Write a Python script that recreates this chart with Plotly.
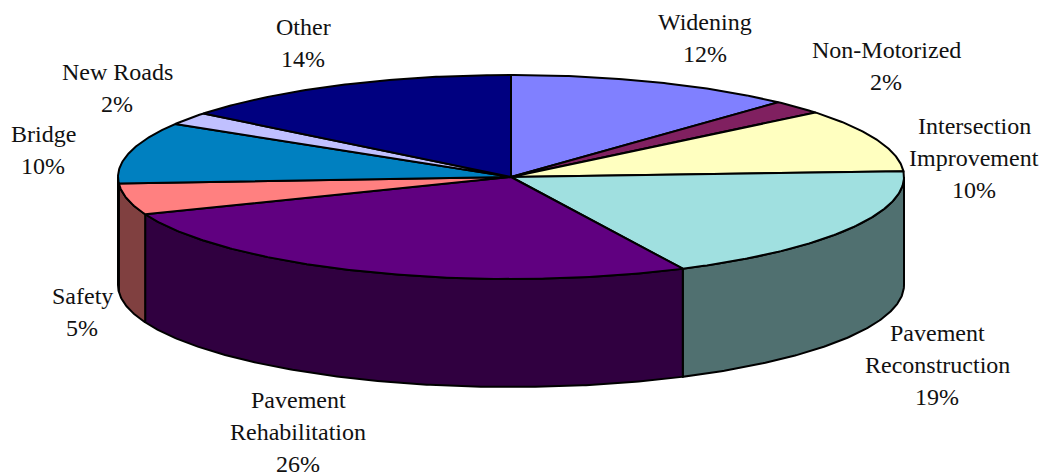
import numpy as np
import plotly.graph_objects as go

categories = ["Widening", "Non-Motorized", "Intersection Improvement", "Pavement Reconstruction",
              "Pavement Rehabilitation", "Safety", "Bridge", "New Roads", "Other"]
shares = [11.9, 2.2, 10.0, 18.7, 26.25, 4.95, 9.7, 2.0, 14.3]
top_colors = ["#8080FF", "#802060", "#FFFFC0", "#A0E0E0", "#600080", "#FF8080", "#0080C0", "#C0C0FF", "#000080"]
side_colors = ["#404080", "#401030", "#808060", "#507070", "#300040", "#804040", "#004060", "#606080", "#000040"]
label_lines = [["Widening", "12%"], ["Non-Motorized", "2%"], ["Intersection", "Improvement", "10%"],
               ["Pavement", "Reconstruction", "19%"], ["Pavement", "Rehabilitation", "26%"],
               ["Safety", "5%"], ["Bridge", "10%"], ["New Roads", "2%"], ["Other", "14%"]]
label_x = [705, 886, 974, 937, 298, 82, 43, 117, 303]
label_y = [22, 50, 126, 333, 400, 296, 134, 72, 27]
label_step = 32.2

CX, CY, RX, RY, DEPTH = 511, 177, 393, 102, 108


def rim(a, b, dy=0.0):
    t = np.radians(np.linspace(a, b, max(2, int(abs(b - a) * 2) + 2)))
    return CX + RX * np.sin(t), CY - RY * np.cos(t) + dy


fig = go.Figure()
edges = np.concatenate([[0], np.cumsum(shares)]) / sum(shares) * 360

# visible outer wall (front half of the disc)
for i, name in enumerate(categories):
    a, b = max(edges[i], 90), min(edges[i + 1], 270)
    if b <= a:
        continue
    xt, yt = rim(a, b)
    xb, yb = rim(b, a, DEPTH)
    fig.add_trace(go.Scatter(x=np.r_[xt, xb, xt[0]], y=np.r_[yt, yb, yt[0]], mode="lines", fill="toself",
                             fillcolor=side_colors[i], line=dict(color="black", width=2),
                             hoverinfo="skip", showlegend=False))

# top face wedges
for i, name in enumerate(categories):
    xt, yt = rim(edges[i], edges[i + 1])
    fig.add_trace(go.Scatter(x=np.r_[CX, xt, CX], y=np.r_[CY, yt, CY], mode="lines", fill="toself",
                             fillcolor=top_colors[i], line=dict(color="black", width=2),
                             name=name, text=f"{name}: {label_lines[i][-1]}", hoverinfo="text", showlegend=False))

for lines, lx, ly in zip(label_lines, label_x, label_y):
    for j, line in enumerate(lines):
        fig.add_annotation(x=lx, y=ly + j * label_step, text=line, showarrow=False, xanchor="center", yanchor="middle",
                           font=dict(family="Liberation Serif", size=24, color="#111111"))

fig.update_layout(width=1039, height=474, margin=dict(l=0, r=0, t=0, b=0),
                  paper_bgcolor="white", plot_bgcolor="white",
                  xaxis=dict(range=[0, 1039], visible=False, fixedrange=True),
                  yaxis=dict(range=[474, 0], visible=False, fixedrange=True))
fig.write_html("out.html", config={"displayModeBar": False},
               post_script="document.body.style.margin='0';document.body.style.overflow='hidden';")
